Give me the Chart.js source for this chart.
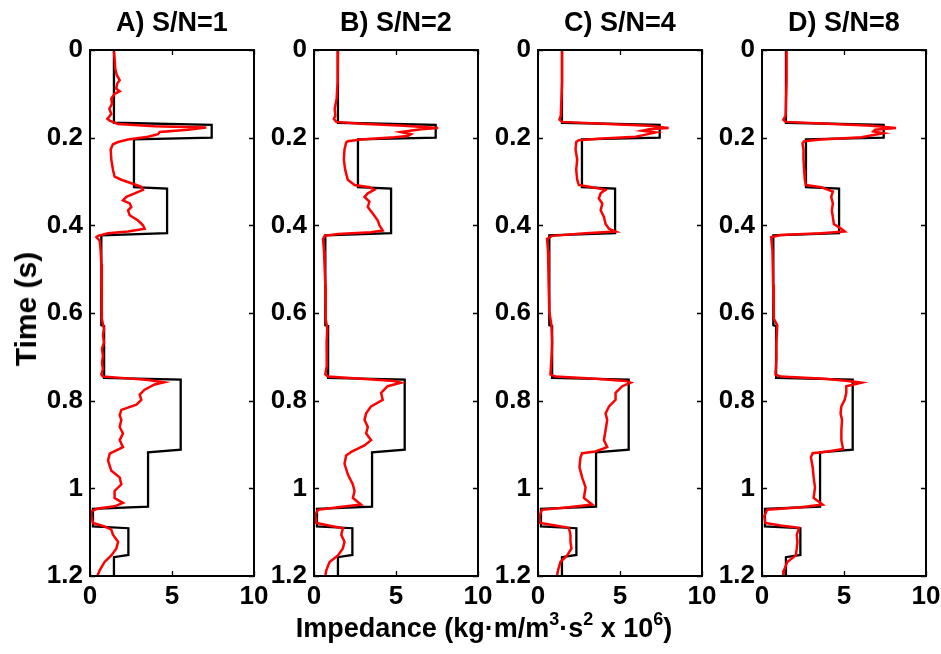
<!DOCTYPE html>
<html>
<head>
<meta charset="utf-8">
<script src="https://cdn.jsdelivr.net/npm/chart.js@4.4.1/dist/chart.umd.min.js"></script>
<style>
  html, body { margin: 0; padding: 0; background: #fff; }
  #fig { position: relative; width: 941px; height: 654px; overflow: hidden; background: #fff;
         font-family: "Liberation Sans", Arial, Helvetica, sans-serif; font-weight: bold; color: #000; }
  canvas { position: absolute; top: 0; }
  .ptitle { position: absolute; top: 9px; width: 220px; text-align: center; font-size: 27px; line-height: 27px; white-space: nowrap; }
  #ytitle { position: absolute; left: 26px; top: 309px; transform: translate(-50%, -50%) rotate(-90deg);
            font-size: 30px; line-height: 30px; white-space: nowrap; }
  #xtitle { position: absolute; left: 484px; top: 613px; transform: translateX(-50%); font-size: 27px; line-height: 30px; white-space: nowrap; }
  .sup { font-size: 18px; position: relative; top: -12px; }
</style>
</head>
<body>
<div id="fig"></div>
<script>
// ---------- DATA ----------
const panelTitles = ['A) S/N=1', 'B) S/N=2', 'C) S/N=4', 'D) S/N=8'];
const xTicks = [0, 5, 10];
const xTickLabels = ['0', '5', '10'];
const yTicks = [0, 0.2, 0.4, 0.6, 0.8, 1.0, 1.2];
const yTickLabels = ['0', '0.2', '0.4', '0.6', '0.8', '1', '1.2'];

// true impedance model (black step curve)
const trueTime = [0, 0.166, 0.171, 0.200, 0.204, 0.313, 0.316, 0.418, 0.423, 0.628, 0.630, 0.748, 0.752, 0.912, 0.918, 1.042, 1.047, 1.087, 1.091, 1.152, 1.157, 1.2];
const trueImp  = [1.46, 1.46, 7.42, 7.42, 2.68, 2.68, 4.70, 4.70, 0.69, 0.69, 0.86, 0.86, 5.53, 5.53, 3.54, 3.54, 0.18, 0.18, 2.34, 2.34, 1.46, 1.46];

// inverted impedance, S/N = 1
const timeA = [0.003,0.019,0.042,0.057,0.069,0.076,0.088,0.094,0.100,0.111,0.123,0.134,0.146,0.157,0.161,0.169,0.174,0.177,0.182,0.187,0.192,0.198,0.204,0.210,0.215,0.227,0.250,0.273,0.289,0.296,0.304,0.312,0.319,0.327,0.335,0.343,0.350,0.358,0.366,0.377,0.389,0.400,0.408,0.414,0.418,0.424,0.427,0.435,0.458,0.489,0.520,0.551,0.582,0.613,0.636,0.651,0.667,0.682,0.698,0.713,0.728,0.740,0.745,0.748,0.753,0.758,0.763,0.775,0.786,0.798,0.809,0.821,0.833,0.844,0.860,0.875,0.890,0.906,0.921,0.937,0.960,0.975,0.991,1.006,1.022,1.033,1.041,1.046,1.052,1.064,1.079,1.087,1.094,1.106,1.122,1.137,1.153,1.168,1.187,1.200];
const impA  = [1.46,1.50,1.54,1.63,1.81,1.67,1.59,1.81,1.50,1.30,1.34,1.18,1.30,1.06,1.20,1.71,3.94,7.09,5.98,4.25,4.15,3.54,2.32,1.71,1.40,1.26,1.30,1.40,1.50,1.91,2.52,3.13,3.23,2.72,2.22,2.01,2.42,2.52,2.32,2.42,2.93,3.23,3.33,2.32,1.10,0.49,0.39,0.59,0.65,0.69,0.69,0.73,0.73,0.73,0.85,0.79,0.85,0.73,0.79,0.73,0.79,0.69,0.79,1.91,3.54,4.51,3.94,3.33,3.03,3.13,2.83,1.91,1.81,1.91,1.81,2.01,1.81,2.01,1.20,1.10,1.30,1.81,1.91,1.50,1.50,2.01,1.50,0.49,0.08,0.08,0.18,0.89,1.30,1.40,1.71,1.61,1.30,0.89,0.59,0.45];

// inverted impedance, S/N = 2
const timeB = [0.003,0.034,0.073,0.111,0.134,0.150,0.157,0.164,0.168,0.173,0.178,0.181,0.187,0.192,0.196,0.199,0.204,0.208,0.211,0.227,0.250,0.273,0.296,0.308,0.313,0.319,0.327,0.335,0.346,0.358,0.373,0.389,0.400,0.412,0.416,0.420,0.424,0.431,0.458,0.497,0.535,0.582,0.613,0.636,0.667,0.690,0.721,0.740,0.745,0.750,0.755,0.759,0.767,0.782,0.798,0.813,0.829,0.844,0.860,0.875,0.890,0.902,0.917,0.925,0.944,0.968,0.991,1.006,1.022,1.037,1.043,1.049,1.060,1.079,1.086,1.091,1.106,1.122,1.137,1.153,1.168,1.187,1.200];
const impB  = [1.46,1.46,1.42,1.38,1.26,1.30,1.21,1.36,2.87,5.51,7.57,6.52,5.30,5.91,5.71,4.90,2.87,2.06,1.96,1.86,1.82,1.90,2.06,2.47,3.38,3.68,3.28,3.08,3.38,3.28,3.58,3.89,3.99,4.19,3.48,1.46,0.65,0.55,0.61,0.65,0.69,0.69,0.73,0.81,0.77,0.79,0.77,0.69,0.85,2.87,4.90,5.30,4.49,4.09,4.19,3.48,3.18,3.08,3.28,3.18,3.48,3.08,2.27,1.96,1.86,2.06,2.37,2.47,2.37,2.87,1.46,0.24,0.08,0.14,1.05,1.76,1.66,1.86,1.76,1.46,0.95,0.75,0.69];

// inverted impedance, S/N = 4
const timeC = [0.003,0.073,0.111,0.150,0.159,0.164,0.168,0.173,0.178,0.181,0.184,0.188,0.193,0.198,0.202,0.206,0.210,0.227,0.250,0.273,0.296,0.308,0.313,0.319,0.327,0.339,0.350,0.366,0.381,0.397,0.408,0.414,0.418,0.424,0.431,0.458,0.535,0.597,0.628,0.667,0.705,0.740,0.745,0.750,0.755,0.759,0.767,0.782,0.798,0.813,0.829,0.844,0.867,0.890,0.906,0.916,0.920,0.929,0.952,0.975,0.998,1.022,1.037,1.043,1.049,1.064,1.079,1.085,1.090,1.106,1.122,1.137,1.153,1.168,1.187,1.200];
const impC  = [1.47,1.47,1.43,1.39,1.31,1.47,3.92,6.78,7.96,6.78,6.37,7.18,6.57,5.96,3.92,2.49,2.33,2.29,2.39,2.33,2.39,2.49,3.31,4.12,3.82,3.71,3.92,3.82,4.02,4.12,4.33,4.73,2.90,0.86,0.55,0.61,0.65,0.69,0.82,0.86,0.82,0.76,1.06,3.51,5.35,5.65,5.14,4.73,4.73,4.33,4.12,4.22,4.12,4.02,4.22,3.51,2.69,2.59,2.53,2.69,2.90,2.80,3.31,1.88,0.24,0.08,0.14,1.06,1.88,1.98,1.98,2.04,1.78,1.37,1.22,1.16];

// inverted impedance, S/N = 8
const timeD = [0.003,0.073,0.150,0.159,0.164,0.168,0.173,0.178,0.182,0.186,0.190,0.194,0.199,0.204,0.208,0.213,0.227,0.250,0.273,0.296,0.308,0.313,0.323,0.335,0.350,0.366,0.381,0.397,0.408,0.414,0.418,0.422,0.427,0.458,0.535,0.613,0.628,0.667,0.705,0.740,0.745,0.750,0.755,0.759,0.767,0.782,0.798,0.813,0.829,0.844,0.867,0.890,0.910,0.916,0.920,0.929,0.952,0.975,0.998,1.022,1.037,1.043,1.049,1.064,1.079,1.085,1.090,1.106,1.122,1.137,1.153,1.168,1.187,1.200];
const impD  = [1.50,1.50,1.44,1.30,1.44,4.01,6.69,8.17,6.89,6.79,7.41,6.79,6.07,3.60,2.57,2.47,2.53,2.53,2.57,2.61,2.67,3.60,4.32,4.22,4.32,4.26,4.32,4.38,4.84,5.04,3.60,1.13,0.56,0.64,0.68,0.72,0.93,0.88,0.88,0.82,1.13,3.81,5.25,6.07,5.14,5.14,5.04,4.84,4.79,4.88,4.84,4.84,4.94,4.01,3.09,2.98,3.09,3.15,3.23,3.15,3.70,2.37,0.31,0.14,0.21,1.13,2.26,2.12,2.16,2.12,2.06,1.54,1.34,1.30];

const invTimes = [timeA, timeB, timeC, timeD];
const invImps  = [impA, impB, impC, impD];

// ---------- LAYOUT ----------
const panelLeft = [90, 314, 538, 762];
const plotW = 164;
const axisW = 62, padRight = 20, canvasH = 654;
const plotTop = 50, plotBottom = 576, xAxisH = 40;

const FONT = { family: '"Liberation Sans", Arial, Helvetica, sans-serif', size: 26, weight: 'bold' };

const framePlugin = {
  id: 'frame',
  afterDatasetsDraw(chart) {
    const { ctx, chartArea: a, scales } = chart;
    const xs = scales.x, ys = scales.y;
    const tl = 5;
    ctx.save();
    ctx.strokeStyle = '#000';
    ctx.lineWidth = 1.3;
    ctx.beginPath();
    ys.ticks.forEach(t => {
      const py = Math.round(ys.getPixelForValue(t.value)) + 0.5;
      ctx.moveTo(a.left, py); ctx.lineTo(a.left + tl, py);
      ctx.moveTo(a.right, py); ctx.lineTo(a.right - tl, py);
    });
    xs.ticks.forEach(t => {
      const px = Math.round(xs.getPixelForValue(t.value)) + 0.5;
      ctx.moveTo(px, a.bottom); ctx.lineTo(px, a.bottom - tl);
      ctx.moveTo(px, a.top); ctx.lineTo(px, a.top + tl);
    });
    ctx.stroke();
    ctx.lineWidth = 2;
    ctx.strokeRect(a.left, a.top, a.right - a.left, a.bottom - a.top);
    ctx.restore();
  }
};

const fig = document.getElementById('fig');

panelLeft.forEach((L, i) => {
  const cv = document.createElement('canvas');
  const cw = axisW + plotW + padRight;
  cv.width = cw; cv.height = canvasH;
  cv.style.left = (L - axisW) + 'px';
  cv.style.width = cw + 'px'; cv.style.height = canvasH + 'px';
  fig.appendChild(cv);

  const t = document.createElement('div');
  t.className = 'ptitle';
  t.textContent = panelTitles[i];
  t.style.left = (L + plotW / 2 - 110) + 'px';
  fig.appendChild(t);

  const redPts = invTimes[i].map((tt, k) => ({ x: invImps[i][k], y: tt }));
  const truePts = trueTime.map((tt, k) => ({ x: trueImp[k], y: tt }));

  new Chart(cv, {
    type: 'scatter',
    data: {
      datasets: [
        { label: 'Inverted', data: redPts, showLine: true, borderColor: '#ff0000', backgroundColor: '#ff0000',
          borderWidth: 2.5, pointRadius: 0, tension: 0, fill: false },
        { label: 'True', data: truePts, showLine: true, borderColor: '#000000', backgroundColor: '#000000',
          borderWidth: 2.3, pointRadius: 0, tension: 0, fill: false }
      ]
    },
    options: {
      responsive: false,
      animation: false,
      events: [],
      devicePixelRatio: 1,
      layout: { padding: { top: plotTop, bottom: canvasH - plotBottom - xAxisH, left: 0, right: padRight } },
      plugins: { legend: { display: false }, tooltip: { enabled: false }, title: { display: false } },
      scales: {
        x: {
          type: 'linear', position: 'bottom', min: 0, max: 10,
          afterBuildTicks: s => { s.ticks = xTicks.map(v => ({ value: v })); },
          afterFit: s => { s.height = xAxisH; },
          ticks: { font: FONT, color: '#000', padding: 5, maxRotation: 0, autoSkip: false,
                   callback: v => xTickLabels[xTicks.indexOf(v)] },
          grid: { display: false, drawTicks: false },
          border: { display: false }
        },
        y: {
          type: 'linear', position: 'left', reverse: true, min: 0, max: 1.2,
          afterBuildTicks: s => { s.ticks = yTicks.map(v => ({ value: v })); },
          afterFit: s => { s.width = axisW; },
          ticks: { font: FONT, color: '#000', padding: 7, autoSkip: false,
                   callback: v => yTickLabels[yTicks.indexOf(v)] },
          grid: { display: false, drawTicks: false },
          border: { display: false }
        }
      }
    },
    plugins: [framePlugin]
  });
});

const yt = document.createElement('div');
yt.id = 'ytitle';
yt.textContent = 'Time (s)';
fig.appendChild(yt);

const xt = document.createElement('div');
xt.id = 'xtitle';
xt.innerHTML = 'Impedance (kg\u00b7m/m<span class="sup">3</span>\u00b7s<span class="sup">2</span> x 10<span class="sup">6</span>)';
fig.appendChild(xt);
</script>
</body>
</html>
